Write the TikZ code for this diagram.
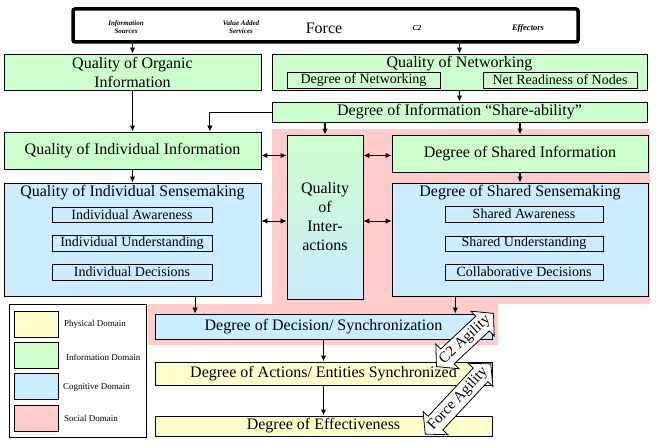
\documentclass[tikz,border=0pt]{standalone}
\usepackage{fontspec}
\setmainfont{Liberation Serif}
\usetikzlibrary{arrows.meta,calc}
\definecolor{infogreen}{HTML}{CCFFCC}
\definecolor{cogblue}{HTML}{CCECFF}
\definecolor{physyellow}{HTML}{FFFFCC}
\definecolor{socpink}{HTML}{FFCCCC}
\newcommand{\bigsize}{\fontsize{16}{19}\selectfont}
\newcommand{\subsize}{\fontsize{14}{16}\selectfont}

\begin{document}
\begin{tikzpicture}[x=1pt,y=-1pt,
	box/.style={draw, line width=0.9pt, inner sep=0pt, font=\bigsize, align=center},
	greenbox/.style={box, fill=infogreen},
	bluebox/.style={box, fill=cogblue},
	yellowbox/.style={box, fill=physyellow},
	subbox/.style={draw, line width=0.8pt, inner sep=0pt, font=\subsize},
	flow/.style={line width=1.5pt, -{Latex[length=6pt,width=5.5pt]}},
	thinflow/.style={line width=0.8pt, -{Latex[length=6pt,width=5.5pt]}},
	both/.style={line width=1.5pt, {Latex[length=6pt,width=5.5pt]}-{Latex[length=6pt,width=5.5pt]}},
	thinboth/.style={line width=0.8pt, {Latex[length=6pt,width=5.5pt]}-{Latex[length=6pt,width=5.5pt]}},
	agility/.style={draw, fill=white, line width=0.8pt, line join=miter},
	agitext/.style={font=\fontsize{15}{16}\selectfont, inner sep=0pt},
	swatch/.style={draw, line width=0.8pt, minimum width=44pt, minimum height=26pt, inner sep=0pt},
	legtext/.style={font=\fontsize{9}{10}\selectfont, anchor=west, inner sep=0pt},
	forcetext/.style={font=\bfseries\itshape\fontsize{7}{8}\selectfont, align=center, inner sep=0pt}]
	\useasboundingbox (0,0) rectangle (656,444);

	\fill[socpink] (272,129) -- (650,129) -- (650,304) -- (498,304) -- (498,345) -- (148,345) -- (148,304) -- (272,304) -- cycle;

	\node[draw, line width=3.5pt, rounded corners=2pt, minimum width=505pt, minimum height=33pt] (force) at (325.5,25.5) {};
	\node[forcetext] (infosrc) at (126,27) {Information\\Sources};
	\node[forcetext] (valadd) at (241,27) {Value Added\\Services};
	\node[font=\bigsize, inner sep=0pt] (forcetxt) at (324,28) {Force};
	\node[forcetext, font=\bfseries\itshape\fontsize{7.5}{8}\selectfont] (ctwo) at (417,28) {C2};
	\node[forcetext, font=\bfseries\itshape\fontsize{8.5}{9}\selectfont] (effectors) at (528,28) {Effectors};

	\node[greenbox, minimum width=257pt, minimum height=36pt] (organic) at (132.5,72) {Quality of Organic\\Information};
	\node[greenbox, minimum width=375pt, minimum height=36pt] (network) at (459.5,72) {};
	\node[font=\bigsize, inner sep=0pt] (nettitle) at (459.5,64) {Quality of Networking};
	\node[subbox, minimum width=153pt, minimum height=16pt] (degnet) at (363.5,80) {Degree of Networking};
	\node[subbox, minimum width=154pt, minimum height=16pt] (netready) at (560,80) {Net Readiness of Nodes};
	\node[greenbox, minimum width=375pt, minimum height=20pt] (share) at (459.5,112) {Degree of Information ``Share-ability''};

	\node[greenbox, minimum width=257pt, minimum height=37pt] (indinfo) at (132.5,150.5) {Quality of Individual Information};
	\node[box, top color=infogreen, bottom color=cogblue, minimum width=76pt, minimum height=164pt] (inter) at (325,217) {Quality\\of\\Inter-\\actions};
	\node[greenbox, minimum width=256pt, minimum height=37pt] (sharedinfo) at (520,153.5) {Degree of Shared Information};

	\node[bluebox, minimum width=257pt, minimum height=113pt] (indsense) at (132.5,239.5) {};
	\node[font=\bigsize, inner sep=0pt] (indtitle) at (132.5,193) {Quality of Individual Sensemaking};
	\node[subbox, minimum width=160pt, minimum height=15pt] (indaw) at (132,214.5) {Individual Awareness};
	\node[subbox, minimum width=160pt, minimum height=16pt] (indund) at (132,243) {Individual Understanding};
	\node[subbox, minimum width=160pt, minimum height=16pt] (inddec) at (132,272) {Individual Decisions};

	\node[bluebox, minimum width=256pt, minimum height=113pt] (sharedsense) at (520,239.5) {};
	\node[font=\bigsize, inner sep=0pt] (shtitle) at (520,193) {Degree of Shared Sensemaking};
	\node[subbox, minimum width=158pt, minimum height=16pt] (shaw) at (524,214) {Shared Awareness};
	\node[subbox, minimum width=158pt, minimum height=15pt] (shund) at (524,243.5) {Shared Understanding};
	\node[subbox, minimum width=158pt, minimum height=16pt] (coll) at (524,272) {Collaborative Decisions};

	\node[bluebox, minimum width=337pt, minimum height=25pt] (decision) at (323.5,326.5) {Degree of Decision/ Synchronization};
	\node[yellowbox, minimum width=337pt, minimum height=23pt] (actions) at (323.5,373.5) {Degree of Actions/ Entities Synchronized};
	\node[yellowbox, minimum width=337pt, minimum height=20pt] (effect) at (323.5,426) {Degree of Effectiveness};

	\node[draw, line width=0.8pt, fill=white, minimum width=137pt, minimum height=133pt] (legend) at (77.5,370.5) {};
	\node[swatch, fill=physyellow] (physsw) at (36,324) {};
	\node[swatch, fill=infogreen] (infosw) at (36,355.5) {};
	\node[swatch, fill=cogblue] (cogsw) at (36,386.5) {};
	\node[swatch, fill=socpink] (socsw) at (36,418.5) {};
	\node[legtext] (physlab) at (64,324) {Physical Domain};
	\node[legtext] (infolab) at (66,357) {Information Domain};
	\node[legtext] (coglab) at (63,387) {Cognitive Domain};
	\node[legtext] (soclab) at (64,418) {Social Domain};

	\draw[flow] (force.south -| organic.north) -- (organic.north);
	\draw[flow] (force.south -| network.north) -- (network.north);
	\draw[flow] (network.south) -- (share.north);
	\draw[flow] (share.south -| inter.north) -- (inter.north);
	\draw[flow] (share.south -| sharedinfo.north) -- (sharedinfo.north);
	\coordinate (bend) at ($(indinfo.north west)!0.8!(indinfo.north east)$);
	\draw[thinflow] (share.west) -| (bend);
	\draw[flow] (organic.south) -- (indinfo.north);
	\draw[flow] (indinfo.south) -- (indsense.north);
	\draw[flow] (sharedinfo.south) -- (sharedsense.north);

	\coordinate (infolink) at ([yshift=-5pt]indinfo.east);
	\draw[both] (infolink) -- (infolink -| inter.west);
	\draw[both] (inter.east |- infolink) -- (infolink -| sharedinfo.west);
	\coordinate (indlink) at ([yshift=18.5pt]indsense.east);
	\draw[thinboth] (indlink) -- (indlink -| inter.west);
	\draw[thinboth] (inter.east |- indlink) -- (indlink -| sharedsense.west);

	\coordinate (declink) at ($(decision.north west)!0.12!(decision.north east)$);
	\coordinate (shdeclink) at ($(decision.north west)!0.89!(decision.north east)$);
	\draw[thinflow] (declink |- indsense.south) -- (declink);
	\draw[flow] (shdeclink |- sharedsense.south) -- (shdeclink);
	\draw[flow] (decision.south) -- (actions.north);
	\draw[flow] (actions.south) -- (effect.north);

	\begin{scope}[shift={(465,340)}, rotate=43]
		\draw[agility] (-39,0) -- (-24,-17) -- (-24,-10) -- (24,-10) -- (24,-17) -- (39,0) -- (24,17) -- (24,10) -- (-24,10) -- (-24,17) -- cycle;
	\end{scope}
	\node[agitext, rotate=43] (ctwoagility) at (465,340) {C2 Agility};
	\begin{scope}[shift={(458,399)}, rotate=47]
		\draw[agility] (-48,0) -- (-33,-17) -- (-33,-10) -- (33,-10) -- (33,-17) -- (48,0) -- (33,17) -- (33,10) -- (-33,10) -- (-33,17) -- cycle;
	\end{scope}
	\node[agitext, rotate=47] (forceagility) at (458,399) {Force Agility};
\end{tikzpicture}
\end{document}
